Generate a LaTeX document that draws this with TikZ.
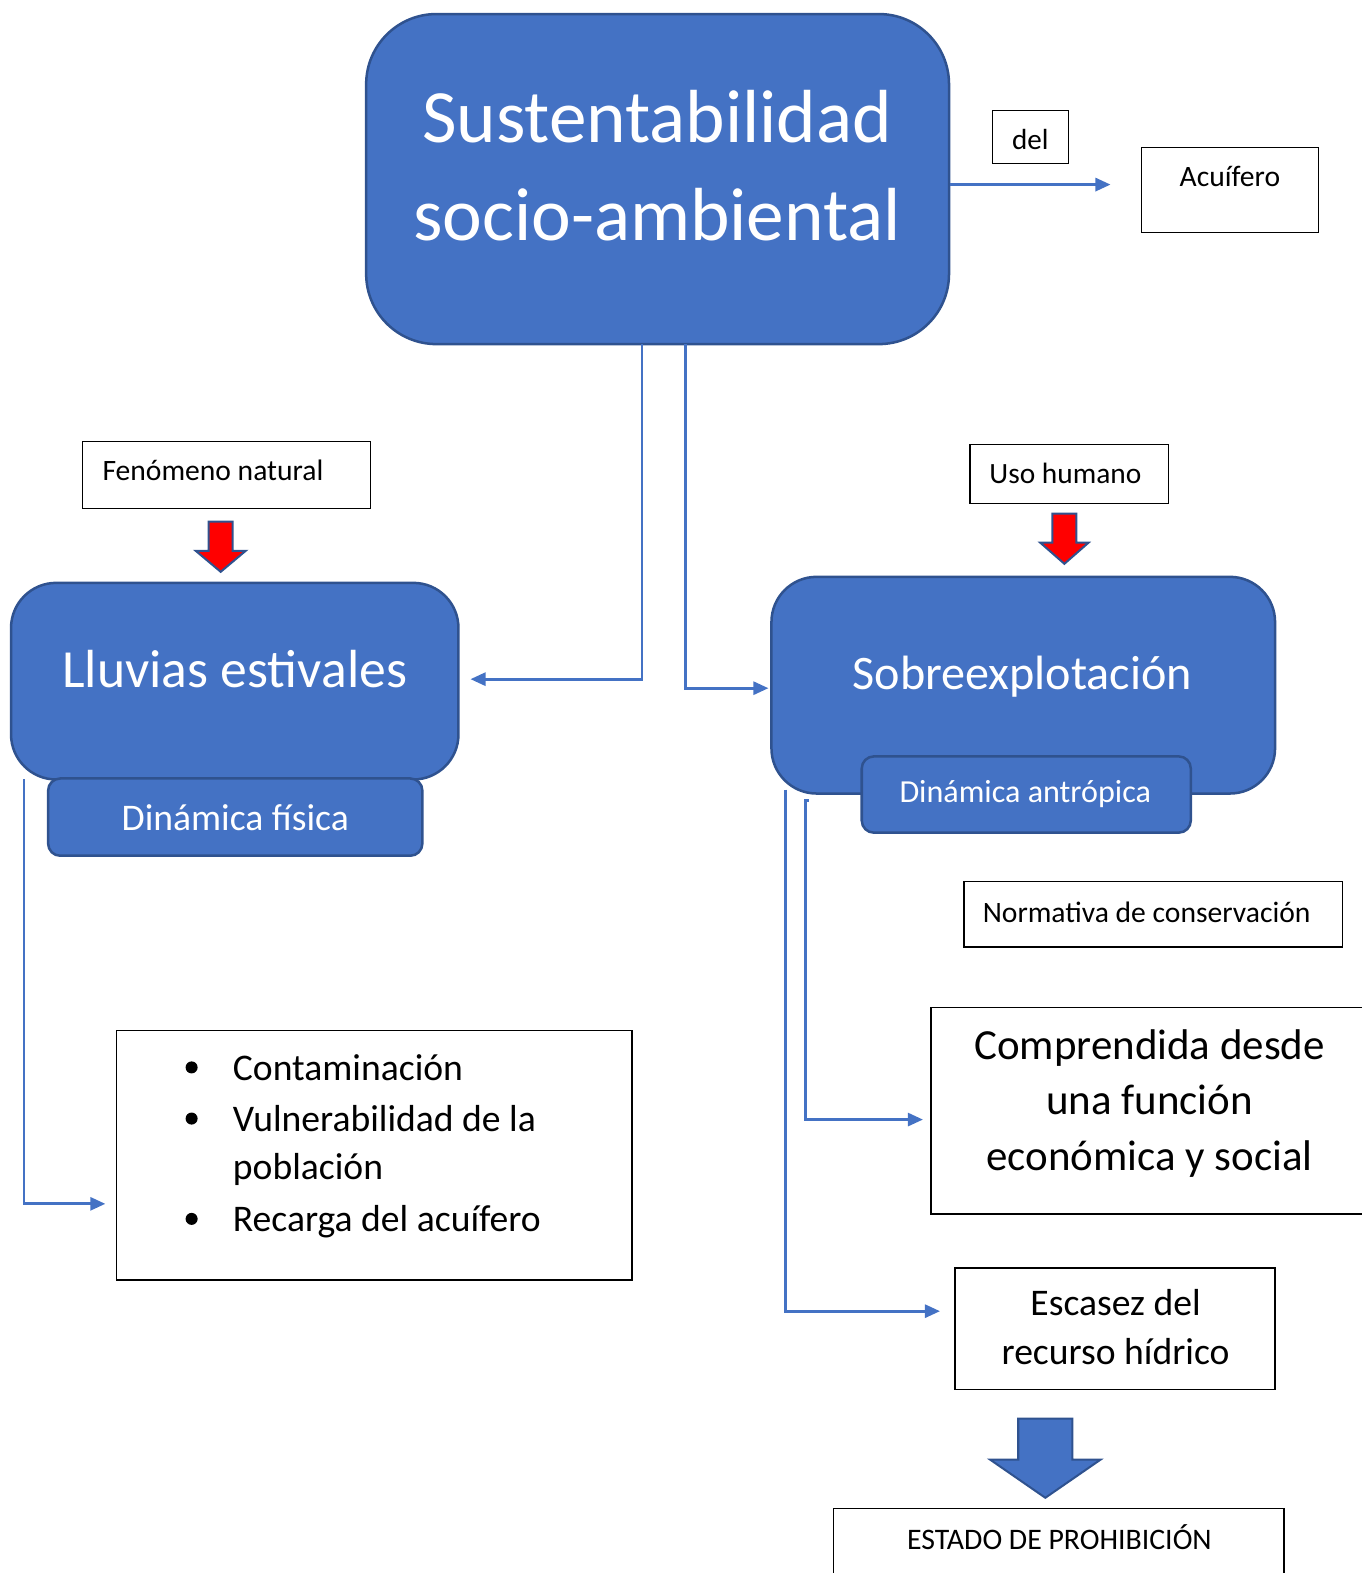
\documentclass[tikz,border=0pt]{standalone}
\usepackage{fontspec}
\setmainfont{Carlito}
\usetikzlibrary{arrows.meta,calc}
\definecolor{bfill}{HTML}{4472C4}
\definecolor{bedge}{HTML}{2F528F}
\begin{document}
\begin{tikzpicture}[x=1pt,y=-1pt,
  bluebox/.style={draw=bedge,fill=bfill,line width=2.5pt,inner sep=0pt},
  wbox/.style={draw=black,line width=1.3pt,fill=white,inner sep=0pt},
  wtext/.style={text=white,inner sep=0pt,align=center},
  ktext/.style={text=black,inner sep=0pt,align=center},
  conn/.style={draw=bfill,line width=2.7pt,-{Triangle[length=15pt,width=13pt]}},
  redarrow/.style={fill=red,draw=bedge,line width=2pt,line join=miter},
  bluearrow/.style={fill=bfill,draw=bedge,line width=2pt}]
\useasboundingbox (0,0) rectangle (1357,1568);

% main box
\node[bluebox,rounded corners=70pt,minimum width=581pt,minimum height=329pt] (main) at (655.5,178.5) {};
\node[wtext,font=\fontsize{75}{98}\selectfont] (maintxt) at (655,165) {Sustentabilidad\\socio-ambiental};

% del / Acuifero
\node[wbox,minimum width=76pt,minimum height=53pt] (del) at (1027,136.5) {};
\node[ktext,font=\fontsize{29}{34}\selectfont] (deltxt) at (1027,139) {del};
\node[wbox,minimum width=176pt,minimum height=85pt] (acu) at (1226,189.5) {};
\node[ktext,font=\fontsize{29.5}{34}\selectfont] (acutxt) at (1226,176) {Acuífero};
\coordinate (acuin) at (1107,184);
\draw[conn] (main.east |- acuin) -- (acuin);

% Fenomeno natural
\node[wbox,minimum width=287pt,minimum height=67pt] (fen) at (225.5,473.5) {};
\node[ktext,font=\fontsize{29.5}{34}\selectfont,anchor=west] (fentxt) at (102,469) {Fenómeno natural};
\draw[redarrow] (208,520) -- (232,520) -- (232,549) -- (245,549) -- (220,570) -- (195,549) -- (208,549) -- cycle;

% Lluvias
\node[bluebox,rounded corners=45pt,minimum width=446pt,minimum height=196pt] (llu) at (234,679) {};
\node[wtext,font=\fontsize{53.5}{60}\selectfont] (llutxt) at (234,667) {Lluvias estivales};
\node[bluebox,rounded corners=12pt,minimum width=373pt,minimum height=77pt] (dfis) at (234.5,814.5) {};
\node[wtext,font=\fontsize{37.5}{44}\selectfont] (dfistxt) at (234.5,815) {Dinámica física};

% Uso humano
\node[wbox,minimum width=198pt,minimum height=59pt] (uso) at (1066,472.5) {};
\node[ktext,font=\fontsize{29.3}{34}\selectfont] (usotxt) at (1062,472) {Uso humano};
\draw[redarrow] (1049,512) -- (1073,512) -- (1073,541) -- (1085,541) -- (1061,562) -- (1037,541) -- (1049,541) -- cycle;

% Sobreexplotacion
\node[bluebox,rounded corners=45pt,minimum width=502pt,minimum height=216pt] (sob) at (1020,683) {};
\node[wtext,font=\fontsize{48}{56}\selectfont] (sobtxt) at (1019,675) {Sobreexplotación};
\node[bluebox,rounded corners=12pt,minimum width=328pt,minimum height=76pt] (dant) at (1023,792) {};
\node[wtext,font=\fontsize{32}{38}\selectfont] (danttxt) at (1022,792) {Dinámica antrópica};

% connectors from main
\coordinate (lluin) at (469,677);
\coordinate (sobin) at (766,686);
\draw[conn] (640,343) |- (lluin);
\draw[conn] (683,343) |- (sobin);

% Normativa
\node[wbox,minimum width=377pt,minimum height=65pt] (norm) at (1149.5,911.5) {};
\node[ktext,font=\fontsize{29.5}{34}\selectfont] (normtxt) at (1143,909) {Normativa de conservación};

% Comprendida
\node[wbox,minimum width=460pt,minimum height=206pt] (comp) at (1158,1107) {};
\node[ktext,font=\fontsize{42.8}{55.5}\selectfont] (comptxt) at (1146,1100) {Comprendida desde\\una función\\económica y social};

% Escasez
\node[wbox,minimum width=319pt,minimum height=121pt] (esc) at (1111.5,1324.5) {};
\node[ktext,font=\fontsize{37.5}{49}\selectfont] (esctxt) at (1112,1323) {Escasez del\\recurso hídrico};

% big blue arrow
\draw[bluearrow] (1015,1414) -- (1069,1414) -- (1069,1455) -- (1097,1455) -- (1042,1493) -- (987,1455) -- (1015,1455) -- cycle;

% Estado
\node[wbox,minimum width=449pt,minimum height=120pt] (est) at (1055.5,1564) {};
\node[ktext,font=\fontsize{29.7}{34}\selectfont] (esttxt) at (1056,1532) {ESTADO DE PROHIBICIÓN};

% Bullet box
\node[wbox,minimum width=514pt,minimum height=249pt] (bul) at (373,1151.5) {};
\foreach \yy/\tt/\nm in {1068/Contaminación/a,1119/Vulnerabilidad de la/b,1167/población/c,1219/Recarga del acuífero/d}{
  \node[ktext,font=\fontsize{37.5}{44}\selectfont,anchor=west] (bt\nm) at (232,\yy) {\strut\tt};
}
\foreach \yy/\nm in {1064/a,1115/b,1215/d}{
  \fill[black] (191,\yy) circle (6pt) coordinate (bu\nm);
}

% connectors from lower boxes
\coordinate (bulin) at (105,1200);
\draw[conn] (24,777) |- (bulin);
\coordinate (compin) at (920,1116);
\draw[conn] (806,798) -- (803,798) |- (compin);
\coordinate (escin) at (937,1307);
\draw[conn] (783,787) |- (escin);

\end{tikzpicture}
\end{document}
